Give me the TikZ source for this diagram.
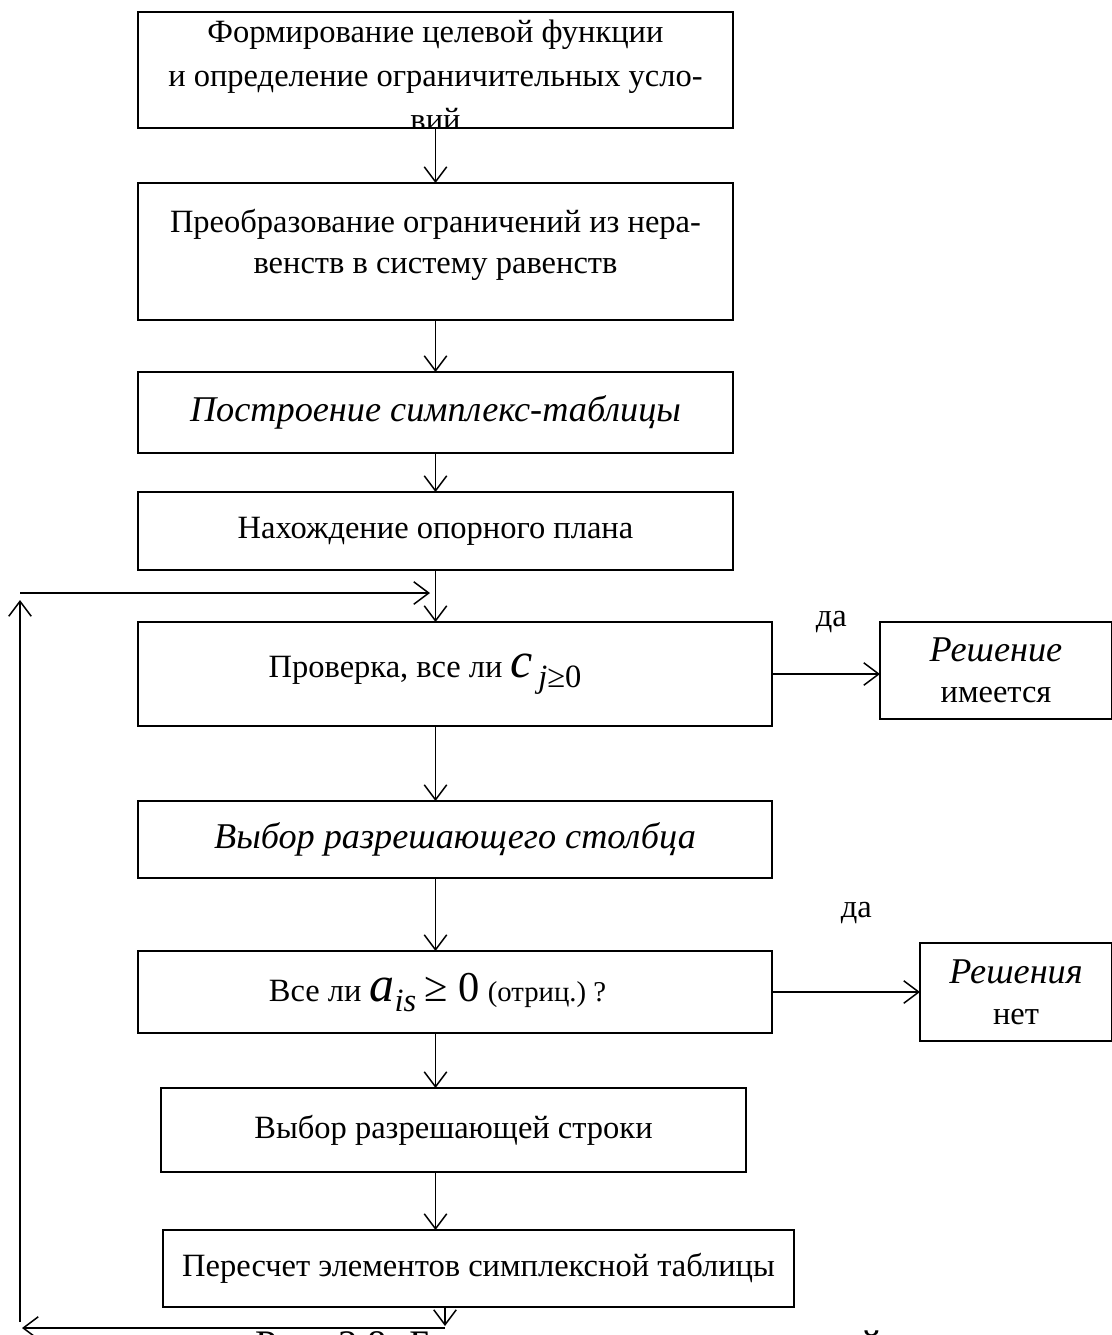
\documentclass[tikz,border=0pt]{standalone}
\usepackage{fontspec}
\setmainfont{Liberation Serif}
\usetikzlibrary{positioning,arrows.meta}

\newcommand\txt{\fontsize{13pt}{16.4pt}\selectfont}
\newcommand\ittxt{\fontsize{14.5pt}{17pt}\selectfont\itshape}
\newcommand\bigit{\fontsize{20pt}{20pt}\selectfont\itshape}

\begin{document}
\begin{tikzpicture}[x=0.4pt,y=-0.4pt,>={Straight Barb[length=6pt,width=9pt]},
    blk/.style={draw,line width=1pt,align=center,font=\txt,inner sep=0pt,outer sep=0pt},
    conn/.style={->,line width=0.6pt},
    lbl/.style={font=\txt,inner sep=0pt}]
  \useasboundingbox (0,0) rectangle (1112,1335);
  % main column
  \node[blk,anchor=north west,minimum width=238pt,minimum height=46.4pt,
        path picture={\node[align=center,font=\fontsize{13pt}{17.5pt}\selectfont,draw=none,anchor=center]
          at ([yshift=-2pt]path picture bounding box.center)
          {Формирование целевой функции\\и определение ограничительных усло-\\вий};}] (form) at (138,12) {};
  \node[blk,below=22pt of form.south west,anchor=north west,minimum width=238pt,minimum height=54.8pt,text depth=8pt] (conv)
    {Преобразование ограничений из нера-\\венств в систему равенств};
  \node[blk,below=20.8pt of conv.south west,anchor=north west,minimum width=238pt,minimum height=32.4pt,font=\ittxt] (tab)
    {Построение симплекс-таблицы};
  \node[blk,below=15.6pt of tab.south west,anchor=north west,minimum width=238pt,minimum height=31.2pt] (plan)
    {Нахождение опорного плана};
  \node[blk,below=20.8pt of plan.south west,anchor=north west,minimum width=253.6pt,minimum height=41.6pt] (chk)
    {Проверка, все ли {\bigit c}\,\raisebox{-4pt}{\txt\itshape j\upshape≥0}\hspace*{24pt}};
  \node[blk,below=30pt of chk.south west,anchor=north west,minimum width=253.6pt,minimum height=30.8pt,font=\ittxt] (col)
    {Выбор разрешающего столбца};
  \node[blk,below=29.2pt of col.south west,anchor=north west,minimum width=253.6pt,minimum height=32.8pt] (neg)
    {Все ли {\bigit a}\raisebox{-4pt}{\txt\itshape is}\ {\fontsize{17pt}{17pt}\selectfont≥ 0}
     {\fontsize{11.5pt}{12pt}\selectfont(отриц.)~?}\hspace*{14pt}};
  \node[blk,below=22pt of neg.south west,anchor=north west,xshift=9.2pt,minimum width=234pt,minimum height=33.6pt] (row)
    {Выбор разрешающей строки};
  \node[blk,below=23.2pt of row.south west,anchor=north west,xshift=0.8pt,minimum width=252.4pt,minimum height=30.8pt] (recalc)
    {Пересчет элементов симплексной таблицы};
  % exits
  \node[blk,right=43.2pt of chk.north east,anchor=north west,minimum width=92.8pt,minimum height=38.8pt] (yes)
    {{\ittxt Решение}\\имеется};
  \node[blk,right=59.2pt of neg.north east,anchor=north west,yshift=3.2pt,minimum width=76.8pt,minimum height=39.2pt] (none)
    {{\ittxt Решения}\\нет};
  % caption (cut off)
  \node[lbl,anchor=base west,font=\fontsize{15.6pt}{18pt}\selectfont] (cap) at (255,1357)
    {Рис. 2.8. Блок-схема вычислительной процедуры симплекс-метода};
  % loop points
  \coordinate (bot) at (445,1328);
  \coordinate (bl) at (22,1328);
  \coordinate (lbot) at (20,1322);
  \coordinate (ltop) at (20,600);
  \coordinate (lstart) at (20,593);
  \coordinate (lend) at (430,593);

  \draw[conn] (form.south) -- (conv.north);
  \draw[conn] (conv.south) -- (tab.north);
  \draw[conn] (tab.south) -- (plan.north);
  \draw[conn] (plan.south) -- (plan.south |- chk.north);
  \draw[conn] (chk.south -| plan.south) -- (col.north -| plan.south);
  \draw[conn] (col.south -| plan.south) -- (neg.north -| plan.south);
  \draw[conn] (neg.south -| plan.south) -- (row.north -| plan.south);
  \draw[conn] (row.south -| plan.south) -- (recalc.north -| plan.south);
  \draw[conn] (recalc.south -| bot) -- ([yshift=0.8pt]bot);
  \draw[conn] (bot) -- (bl);
  \draw[conn] (lbot) -- (ltop);
  \draw[conn] (lstart) -- (lend);
  \draw[conn] (chk.east) -- (chk.east -| yes.west) node[lbl,pos=0.55,above=16pt] {да};
  \draw[conn] (neg.east) -- (neg.east -| none.west) node[lbl,pos=0.57,above=27pt] {да};
\end{tikzpicture}
\end{document}
